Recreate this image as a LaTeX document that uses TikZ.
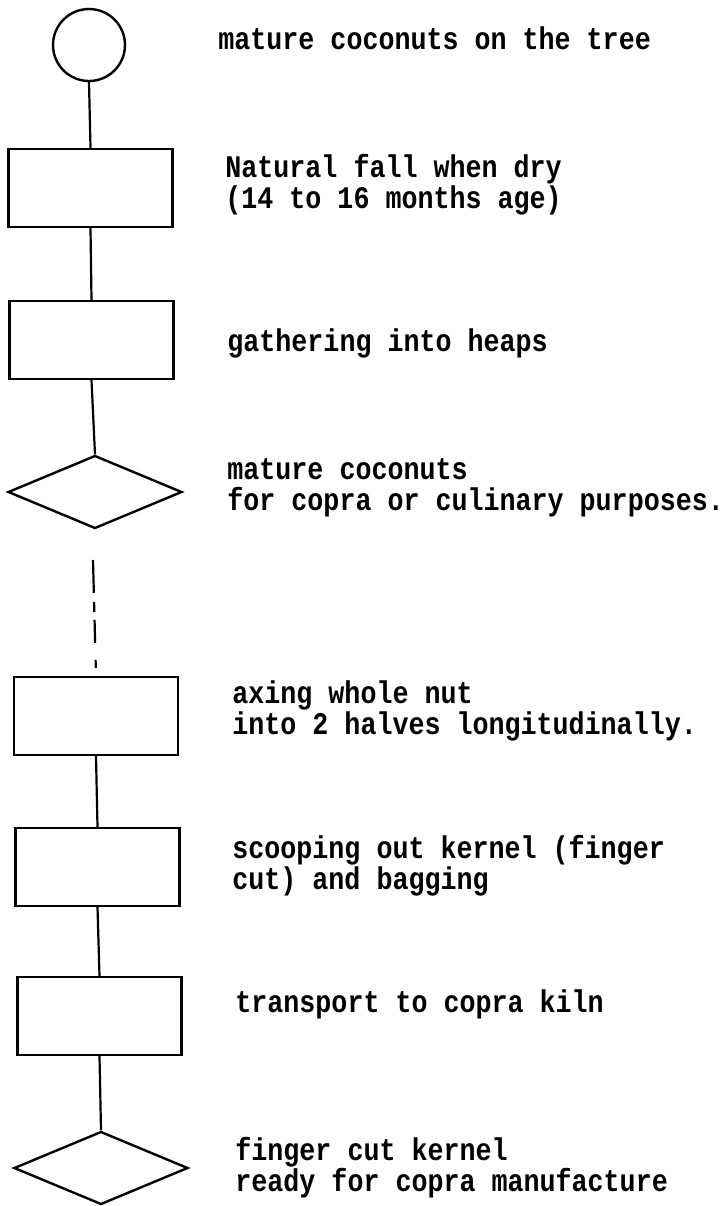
\documentclass[tikz,border=0pt]{standalone}
\usepackage{fontspec}
\usetikzlibrary{shapes.geometric}
% typewriter-like face: Courier-metric mono, slightly narrowed
\newfontfamily\typer[FakeStretch=0.85]{Liberation Mono}

\tikzset{
  flow/.style={draw=black, line width=1.2pt, inner sep=0pt},
  stepbox/.style={flow, rectangle, minimum width=82pt, minimum height=39pt},
  startcirc/.style={flow, circle, minimum size=36pt},
  decision/.style={flow, diamond, minimum width=87pt, minimum height=36.5pt},
  link/.style={draw=black, line width=1.1pt},
  dashlink/.style={link, dash pattern=on 16.5pt off 4.5pt on 5pt off 4pt on 11.5pt off 8.5pt on 4pt off 10pt},
  note/.style={inner sep=0pt, anchor=base west, align=left,
    font=\typer\bfseries\fontsize{15.7}{15.5}\selectfont},
}

\begin{document}
\begin{tikzpicture}[x=0.5pt, y=-0.5pt]
  \useasboundingbox[fill=white] (0,0) rectangle (723,1206);

  % process chain
  \node[startcirc] (tree)   at (89,45)    {};
  \node[stepbox]   (fall)   at (90.5,188) {};
  \node[stepbox]   (heap)   at (91.5,340) {};
  \node[decision]  (nuts)   at (95,492)   {};
  \coordinate      (gap)    at (93,560);
  \node[stepbox]   (axe)    at (96,716)   {};
  \node[stepbox]   (scoop)  at (97.5,867) {};
  \node[stepbox]   (haul)   at (99.5,1016){};
  \node[decision]  (kernel) at (101,1168) {};

  % connectors
  \draw[link] (tree.south) -- (fall.north);
  \draw[link] (fall.south) -- (heap.north);
  \draw[link] (heap.south) -- (nuts.north);
  \draw[dashlink] (gap) -- (axe.north);
  \draw[link] (axe.south) -- (scoop.north);
  \draw[link] (scoop.south) -- (haul.north);
  \draw[link] (haul.south) -- (kernel.north);

  % descriptions (anchored on the baseline of the last line)
  \node[note] (t1) at (218,49)   {mature coconuts on the tree};
  \node[note] (t2) at (225,208)  {Natural fall when dry\\(14 to 16 months age)};
  \node[note] (t3) at (227,351)  {gathering into heaps};
  \node[note] (t4) at (227,510)  {mature coconuts\\for copra or culinary purposes.};
  \node[note] (t5) at (232,734)  {axing whole nut\\into 2 halves longitudinally.};
  \node[note] (t6) at (232,889)  {scooping out kernel (finger\\cut) and bagging};
  \node[note] (t7) at (235,1012) {transport to copra kiln};
  \node[note] (t8) at (235,1191) {finger cut kernel\\ready for copra manufacture};
\end{tikzpicture}
\end{document}
